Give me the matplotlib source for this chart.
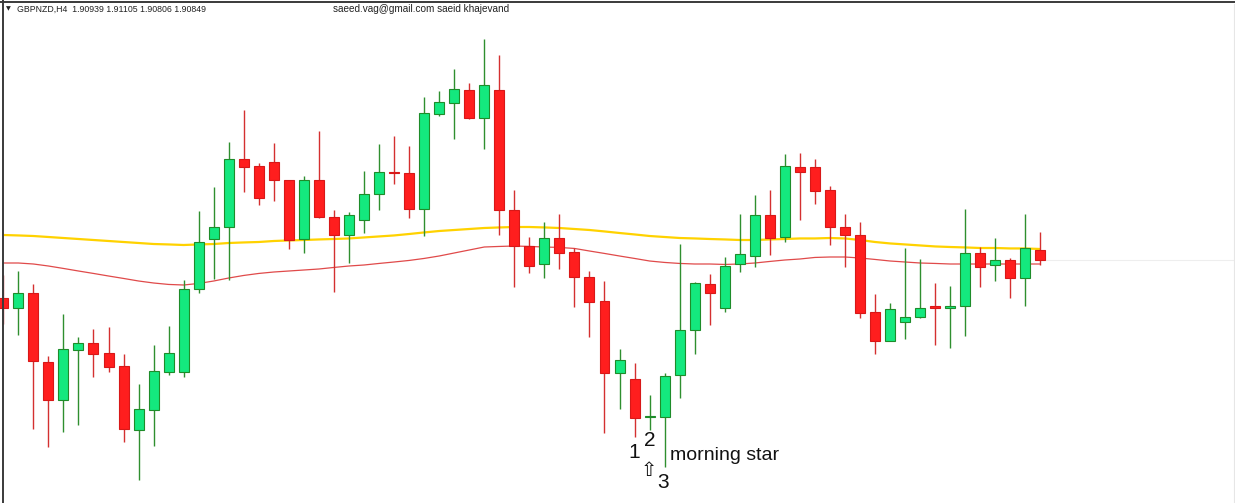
import matplotlib
matplotlib.use("Agg")
import matplotlib.pyplot as plt
from matplotlib.lines import Line2D
import numpy as np

# ---------------- data (GBPNZD, H4) ----------------
opens = [1.90507, 1.90417, 1.90552, 1.89931, 1.89589, 1.90039, 1.90102, 1.90012, 1.89895, 1.89319,
         1.89499, 1.89841, 1.89841, 1.90588, 1.91038, 1.91146, 1.91758, 1.91695, 1.91731, 1.91569,
         1.91038, 1.91569, 1.91236, 1.91074, 1.91209, 1.91443, 1.91641, 1.91632, 1.91308, 1.92163,
         1.92262, 1.92379, 1.92127, 1.92379, 1.91299, 1.90975, 1.90813, 1.91047, 1.90921, 1.90696,
         1.90480, 1.89832, 1.89778, 1.89436, 1.89436, 1.89814, 1.90219, 1.90633, 1.90417, 1.90813,
         1.90885, 1.91254, 1.91056, 1.91686, 1.91686, 1.91479, 1.91146, 1.91074, 1.90381, 1.90120,
         1.90291, 1.90336, 1.90431, 1.90417, 1.90435, 1.90912, 1.90804, 1.90849, 1.90687, 1.90939]
highs = [1.90714, 1.90750, 1.90633, 1.89985, 1.90363, 1.90156, 1.90228, 1.90246, 1.90003, 1.89733,
         1.90084, 1.90255, 1.90669, 1.91290, 1.91506, 1.91911, 1.92199, 1.91722, 1.91902, 1.91569,
         1.91605, 1.92010, 1.91299, 1.91281, 1.91650, 1.91893, 1.91965, 1.91875, 1.92316, 1.92370,
         1.92568, 1.92442, 1.92838, 1.92694, 1.91479, 1.91056, 1.91191, 1.91263, 1.90957, 1.90750,
         1.90660, 1.90048, 1.89922, 1.89634, 1.89832, 1.90993, 1.90651, 1.90723, 1.90876, 1.91263,
         1.91434, 1.91479, 1.91803, 1.91812, 1.91758, 1.91515, 1.91263, 1.91191, 1.90543, 1.90462,
         1.90957, 1.90858, 1.90642, 1.90615, 1.91308, 1.90966, 1.91047, 1.90867, 1.91263, 1.91105]
lows = [1.90273, 1.90174, 1.89328, 1.89166, 1.89301, 1.89364, 1.89796, 1.89841, 1.89211, 1.88869,
        1.89175, 1.89814, 1.89796, 1.90552, 1.90678, 1.90669, 1.91461, 1.91344, 1.91380, 1.90948,
        1.90912, 1.91227, 1.90561, 1.90822, 1.91092, 1.91299, 1.91533, 1.91227, 1.91065, 1.92145,
        1.91938, 1.92118, 1.91848, 1.91074, 1.90606, 1.90732, 1.90687, 1.90768, 1.90426, 1.90156,
        1.89292, 1.89508, 1.89256, 1.89319, 1.88986, 1.89607, 1.90003, 1.90264, 1.90381, 1.90741,
        1.90786, 1.90894, 1.91011, 1.91209, 1.91353, 1.90984, 1.90786, 1.90327, 1.90003, 1.90120,
        1.90138, 1.90327, 1.90084, 1.90057, 1.90165, 1.90606, 1.90660, 1.90507, 1.90435, 1.90806]
closes = [1.90417, 1.90552, 1.89940, 1.89589, 1.90048, 1.90102, 1.90003, 1.89886, 1.89328, 1.89508,
          1.89850, 1.90012, 1.90588, 1.91011, 1.91146, 1.91758, 1.91686, 1.91407, 1.91569, 1.91029,
          1.91569, 1.91236, 1.91074, 1.91254, 1.91443, 1.91641, 1.91628, 1.91308, 1.92172, 1.92271,
          1.92388, 1.92127, 1.92424, 1.91299, 1.90975, 1.90795, 1.91047, 1.90912, 1.90696, 1.90471,
          1.89832, 1.89949, 1.89427, 1.89445, 1.89805, 1.90219, 1.90642, 1.90552, 1.90795, 1.90903,
          1.91254, 1.91047, 1.91695, 1.91641, 1.91470, 1.91146, 1.91074, 1.90372, 1.90120, 1.90408,
          1.90336, 1.90417, 1.90417, 1.90435, 1.90912, 1.90786, 1.90849, 1.90687, 1.90957, 1.90849]
ma_yellow = [1.91074, 1.91070, 1.91065, 1.91056, 1.91047, 1.91038, 1.91029, 1.91020, 1.91011, 1.91002,
             1.90993, 1.90989, 1.90984, 1.90989, 1.90993, 1.91002, 1.91007, 1.91011, 1.91020, 1.91025,
             1.91029, 1.91034, 1.91038, 1.91043, 1.91052, 1.91061, 1.91070, 1.91083, 1.91097, 1.91110,
             1.91119, 1.91128, 1.91137, 1.91142, 1.91146, 1.91146, 1.91142, 1.91137, 1.91128, 1.91119,
             1.91106, 1.91092, 1.91079, 1.91065, 1.91056, 1.91047, 1.91043, 1.91038, 1.91034, 1.91029,
             1.91029, 1.91034, 1.91038, 1.91043, 1.91043, 1.91047, 1.91043, 1.91029, 1.91011, 1.90998,
             1.90989, 1.90980, 1.90971, 1.90966, 1.90962, 1.90957, 1.90957, 1.90953, 1.90953, 1.90948]
ma_red = [1.90822, 1.90822, 1.90813, 1.90795, 1.90773, 1.90750, 1.90728, 1.90705, 1.90683, 1.90660,
          1.90642, 1.90629, 1.90624, 1.90638, 1.90660, 1.90687, 1.90710, 1.90728, 1.90741, 1.90750,
          1.90759, 1.90768, 1.90782, 1.90795, 1.90804, 1.90818, 1.90831, 1.90845, 1.90863, 1.90885,
          1.90912, 1.90939, 1.90966, 1.90971, 1.90975, 1.90971, 1.90966, 1.90962, 1.90953, 1.90930,
          1.90908, 1.90885, 1.90863, 1.90840, 1.90827, 1.90818, 1.90813, 1.90813, 1.90809, 1.90813,
          1.90822, 1.90836, 1.90849, 1.90858, 1.90872, 1.90876, 1.90876, 1.90867, 1.90854, 1.90840,
          1.90831, 1.90822, 1.90818, 1.90813, 1.90813, 1.90813, 1.90813, 1.90813, 1.90813, 1.90813]

symbol_label = "GBPNZD,H4"
header_values = ["1.90939", "1.91105", "1.90806", "1.90849"]
watermark = "saeed.vag@gmail.com saeid khajevand"
pattern_numbers = ["1", "2", "3"]
pattern_name = "morning star"

# ---------------- figure ----------------
W, H = 1235, 503
fig = plt.figure(figsize=(W / 100, H / 100), dpi=100)
fig.patch.set_facecolor("white")
ax = fig.add_axes([0, 0, 1, 1])
ax.set_facecolor("white")
for s in ax.spines.values():
    s.set_visible(False)
ax.set_xticks([])
ax.set_yticks([])

n = len(opens)
x = np.arange(n)
o = np.array(opens)
c = np.array(closes)
hi = np.array(highs)
lo = np.array(lows)
up = c >= o

ax.set_xlim(-0.22, 81.95)
ax.set_ylim(1.88662, 1.93189)

# moving averages
ax.plot(x, ma_yellow, color="#FFD200", lw=1.6, zorder=1, solid_capstyle="butt")
ax.plot(x, ma_red, color="#E04A4A", lw=0.9, zorder=1)

# current price line
ax.plot([n - 1, 81.95], [closes[-1], closes[-1]], color="#eeeeee", lw=0.8, zorder=0.5)

# candles
body_col = np.where(up, "#14E87E", "#FF1E1E")
edge_col = np.where(up, "#1E8C2A", "#D81818")
wick_col = np.where(up, "#2F8F2F", "#D43030")
ax.vlines(x, lo, hi, colors=list(wick_col), lw=1.0, zorder=2)
ax.bar(x, np.abs(c - o), bottom=np.minimum(o, c), width=0.665,
       color=list(body_col), edgecolor=list(edge_col), linewidth=0.8, zorder=3)

# frame
fig.add_artist(Line2D([0, 1], [1 - 1.5 / H, 1 - 1.5 / H], color="#3a3a3a", lw=1.4))
fig.add_artist(Line2D([2.5 / W, 2.5 / W], [0, 1], color="#3a3a3a", lw=1.4))
fig.add_artist(Line2D([1233.5 / W, 1233.5 / W], [0, 1 - 4 / H], color="#e6e6e6", lw=0.8))


def P(px, py):
    return px / W, 1 - py / H


# header texts
ax.text(*P(6, 9), "\u25BC", transform=ax.transAxes, fontsize=4.5, family="DejaVu Sans",
        ha="left", va="center", color="#222222")
ax.text(*P(17, 9), symbol_label + "  " + " ".join(header_values), transform=ax.transAxes,
        fontsize=6.3, family="Liberation Sans", ha="left", va="center", color="#222222")
ax.text(*P(333, 9), watermark, transform=ax.transAxes, fontsize=7.2,
        family="Liberation Sans", ha="left", va="center", color="#222222")

# morning star annotation
ax.text(*P(634, 452), pattern_numbers[0], transform=ax.transAxes, fontsize=15,
        family="Liberation Sans", ha="center", va="center", color="#111111")
ax.text(*P(649.5, 441), pattern_numbers[1], transform=ax.transAxes, fontsize=15,
        family="Liberation Sans", ha="center", va="center", color="#111111")
ax.text(*P(663.5, 482), pattern_numbers[2], transform=ax.transAxes, fontsize=15,
        family="Liberation Sans", ha="center", va="center", color="#111111")
ax.text(*P(648.5, 471), "\u21E7", transform=ax.transAxes, fontsize=14,
        family="DejaVu Sans", ha="center", va="center", color="#111111")
ax.text(*P(670, 460), pattern_name, transform=ax.transAxes, fontsize=14,
        family="Liberation Sans", ha="left", va="baseline", color="#111111")

fig.savefig("out.png", dpi=100, facecolor="white")
